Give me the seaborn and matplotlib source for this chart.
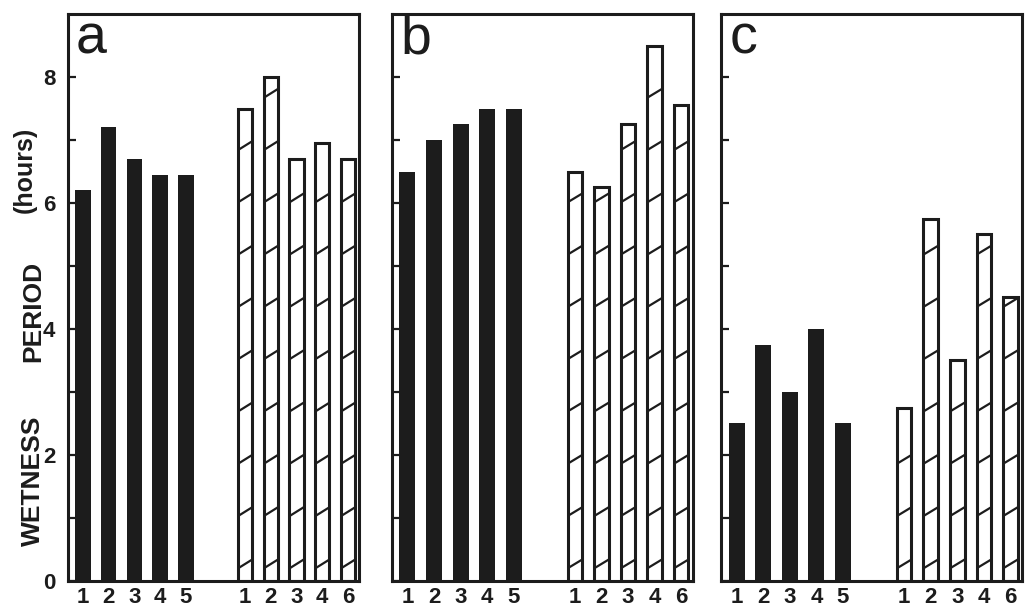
import numpy as np
import pandas as pd
import matplotlib
matplotlib.use("Agg")
import matplotlib.pyplot as plt
import seaborn as sns

# bar labels under each group
solid_labels = ["1", "2", "3", "4", "5"]
hatch_labels = ["1", "2", "3", "4", "6"]

# wetness period (hours)
solid_a = [6.2, 7.2, 6.7, 6.45, 6.45]
hatch_a = [7.5, 8.0, 6.7, 6.95, 6.7]
solid_b = [6.5, 7.0, 7.25, 7.5, 7.5]
hatch_b = [6.5, 6.25, 7.25, 8.5, 7.55]
solid_c = [2.5, 3.75, 3.0, 4.0, 2.5]
hatch_c = [2.75, 5.75, 3.5, 5.5, 4.5]

panels = [("a", solid_a, hatch_a), ("b", solid_b, hatch_b), ("c", solid_c, hatch_c)]

sns.set_style("white")
plt.rcParams["font.family"] = ["Liberation Sans", "DejaVu Sans"]

fig = plt.figure(figsize=(10.29, 6.09), dpi=100)
boxes = [[0.066, 0.046, 0.283, 0.931],
         [0.381, 0.046, 0.292, 0.931],
         [0.701, 0.046, 0.292, 0.931]]

gap = 6.3  # start of the second (hatched) group
ink = "#1c1c1c"

for (letter, solid, hatched), box in zip(panels, boxes):
    ax = fig.add_axes(box)
    xs = np.arange(len(solid))
    xh = np.arange(len(hatched)) + gap
    df_s = pd.DataFrame({"pos": xs, "hours": solid})
    df_h = pd.DataFrame({"pos": xh, "hours": hatched})

    sns.barplot(data=df_s, x="pos", y="hours", native_scale=True, width=0.6,
                color=ink, saturation=1, linewidth=0, errorbar=None, ax=ax)
    n0 = len(ax.patches)
    sns.barplot(data=df_h, x="pos", y="hours", native_scale=True, width=0.55,
                color="white", saturation=1, edgecolor=ink, linewidth=2.2,
                errorbar=None, ax=ax)

    # sparse slanted hatch strokes inside the open bars
    for p in ax.patches[n0:]:
        x0, w, h = p.get_x(), p.get_width(), p.get_height()
        for y in np.arange(0.2, h - 0.12, 0.83):
            ax.plot([x0, x0 + w], [y, y + 0.14], color=ink, lw=1.6,
                    solid_capstyle="butt")

    ax.set_xlim(-0.58, 10.73)
    ax.set_ylim(0, 9)
    ax.set_xticks(list(xs) + list(xh))
    ax.set_xticklabels(solid_labels + hatch_labels, fontsize=16,
                       fontweight="bold", color=ink)
    ax.tick_params(axis="x", length=0, pad=4)

    ax.set_yticks(range(0, 9))
    if letter == "a":
        ax.set_yticklabels([str(v) if v % 2 == 0 else "" for v in range(0, 9)],
                           fontsize=16, fontweight="bold", color=ink)
    else:
        ax.set_yticklabels([])
    ax.tick_params(axis="y", left=True, direction="in", length=6, width=1.6,
                   color=ink, pad=9)

    ax.set_xlabel("")
    ax.set_ylabel("")
    for s in ax.spines.values():
        s.set_visible(True)
        s.set_linewidth(2.2)
        s.set_color(ink)

    ax.text(0.028, 0.931, letter, transform=ax.transAxes, fontsize=40,
            va="baseline", ha="left", color=ink)

fig.text(33 / 1029, 1 - 481 / 609, "WETNESS", rotation=90, ha="center",
         va="center", fontsize=19, fontweight="bold", color=ink)
fig.text(33 / 1029, 1 - 311 / 609, "PERIOD", rotation=90, ha="center",
         va="center", fontsize=19, fontweight="bold", color=ink)
fig.text(25 / 1029, 1 - 170 / 609, "(hours)", rotation=90, ha="center",
         va="center", fontsize=18, fontweight="bold", color=ink)

fig.savefig("out.png", dpi=100)
